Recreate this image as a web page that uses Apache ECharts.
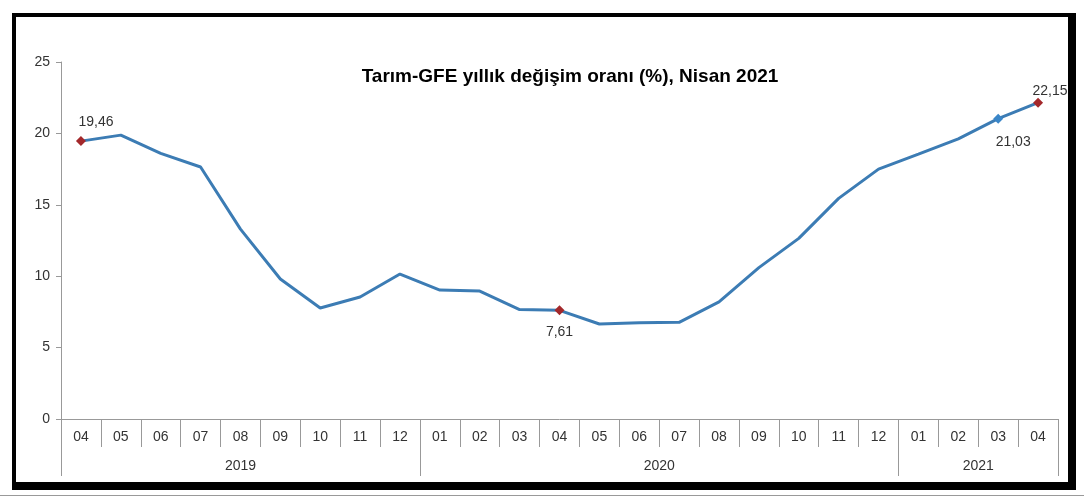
<!DOCTYPE html>
<html>
<head>
<meta charset="utf-8">
<script src="https://cdn.jsdelivr.net/npm/echarts@6/dist/echarts.min.js"></script>
<style>
  html, body { margin: 0; padding: 0; background: #fff; width: 1084px; height: 497px; overflow: hidden; }
  #chart { position: absolute; left: 0; top: 0; width: 1084px; height: 497px; }
  #frame { position: absolute; left: 12px; top: 13px; width: 1052px; height: 465px;
           border-left: 4px solid #000; border-top: 4px solid #000;
           border-right: 8px solid #000; border-bottom: 8px solid #000; pointer-events: none; }
  #bottomline { position: absolute; left: 0; top: 495px; width: 1084px; height: 1px; background: #999; }
</style>
</head>
<body>
<div id="chart"></div>
<div id="frame"></div>
<div id="bottomline"></div>
<script>
// ---- data ----
const months = ['04','05','06','07','08','09','10','11','12',
                '01','02','03','04','05','06','07','08','09','10','11','12',
                '01','02','03','04'];
const values = [19.46, 19.88, 18.6, 17.65, 13.3, 9.8, 7.77, 8.54, 10.15,
                9.03, 8.96, 7.66, 7.61, 6.65, 6.74, 6.77, 8.2, 10.6, 12.65, 15.45, 17.5,
                18.55, 19.62, 21.03, 22.15];
const years = ['2019', '2020', '2021'];
const yearStart = [0, 9, 21];       // index of first month of each year
const yearEnd = [9, 21, 25];        // index after last month
const titleText = 'Tarım-GFE yıllık değişim oranı (%), Nisan 2021';
const labelledRed = [0, 12, 24];
const labelledBlue = [23];
const yTicks = [0, 5, 10, 15, 20, 25];

// ---- chart ----
const chart = echarts.init(document.getElementById('chart'), null, { renderer: 'canvas' });
const FONT = 'Liberation Sans, Arial, sans-serif';
const lineColor = '#3c7cb4';
const redColor = '#a3282b';

function fmt(v) { return v.toFixed(2).replace('.', ','); }

const labelCfg = {
  0:  { position: 'top', offset: [15, 1] },
  12: { position: 'bottom', offset: [0, 2] },
  23: { position: 'bottom', offset: [15, 3] },
  24: { position: 'top', offset: [12, 8] }
};

const seriesData = values.map((v, i) => {
  const item = { value: v };
  if (labelledRed.includes(i) || labelledBlue.includes(i)) {
    item.symbol = 'diamond';
    item.symbolSize = 10;
    item.itemStyle = { color: labelledRed.includes(i) ? redColor : '#3a86c8' };
    item.label = Object.assign({
      show: true, formatter: () => fmt(v), color: '#333', fontSize: 14, fontFamily: FONT, distance: 8
    }, labelCfg[i] || {});
  } else {
    item.symbol = 'none';
  }
  return item;
});

const yearCenters = years.map((y, k) => (yearStart[k] + yearEnd[k]) / 2);
const yearTicks = yearStart.concat([yearEnd[yearEnd.length - 1]]);

chart.setOption({
  animation: false,
  backgroundColor: '#fff',
  title: {
    text: titleText,
    left: 565, top: 62, textAlign: 'center',
    textStyle: { fontFamily: FONT, fontSize: 19, fontWeight: 'bold', color: '#000' }
  },
  grid: { left: 61, right: 26, top: 62, bottom: 78, containLabel: false },
  xAxis: [
    {
      type: 'category',
      data: months,
      boundaryGap: true,
      position: 'bottom',
      axisLine: { show: true, lineStyle: { color: '#999', width: 1 } },
      axisTick: { show: true, interval: 0, length: 28, lineStyle: { color: '#999' } },
      axisLabel: { interval: 0, margin: 11, fontSize: 14, color: '#333', fontFamily: FONT },
      splitLine: { show: false }
    },
    {
      type: 'value',
      min: 0, max: 25,
      position: 'bottom',
      axisLine: { show: false },
      axisTick: { show: true, customValues: yearTicks, length: 57, lineStyle: { color: '#999' } },
      axisLabel: {
        customValues: yearCenters,
        margin: 40, fontSize: 14, color: '#333', fontFamily: FONT,
        formatter: (val) => { const k = yearCenters.indexOf(val); return k >= 0 ? years[k] : ''; }
      },
      splitLine: { show: false }
    }
  ],
  yAxis: {
    type: 'value',
    min: 0, max: 25, interval: 5,
    axisLine: { show: true, lineStyle: { color: '#999', width: 1 } },
    axisTick: { show: true, length: 5, lineStyle: { color: '#999' } },
    axisLabel: { margin: 11, fontSize: 14, color: '#333', fontFamily: FONT,
                 customValues: yTicks },
    splitLine: { show: false }
  },
  series: [{
    type: 'line',
    xAxisIndex: 0,
    data: seriesData,
    lineStyle: { color: lineColor, width: 3 },
    itemStyle: { color: lineColor },
    showSymbol: true,
    z: 3
  }]
});
</script>
</body>
</html>
